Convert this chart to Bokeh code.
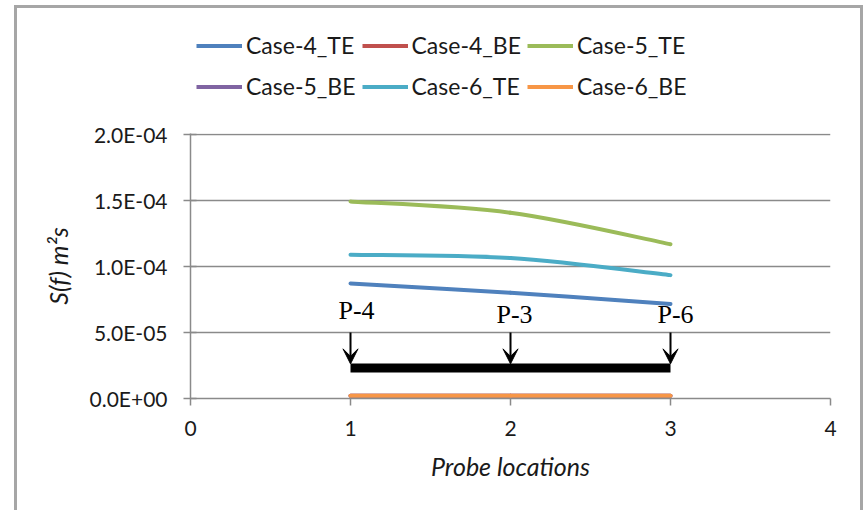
import numpy as np
from bokeh.plotting import figure
from bokeh.layouts import column
from bokeh.models import (Legend, LegendItem, Arrow, VeeHead, InlineStyleSheet,
                          FixedTicker, CustomJSTickFormatter, ColumnDataSource, Range1d)
from bokeh.embed import file_html
from bokeh.resources import INLINE
from bokeh.core.properties import value

# Spectral density at the three probe positions
probes = [1, 2, 3]
case4_te = [8.7e-5, 8.0e-5, 7.15e-5]
case4_be = [2.0e-6, 2.0e-6, 2.0e-6]
case5_te = [1.49e-4, 1.405e-4, 1.167e-4]
case5_be = [2.0e-6, 2.0e-6, 2.0e-6]
case6_te = [1.087e-4, 1.062e-4, 9.33e-5]
case6_be = [2.0e-6, 2.0e-6, 2.0e-6]

series_names = ["Case-4_TE", "Case-4_BE", "Case-5_TE", "Case-5_BE", "Case-6_TE", "Case-6_BE"]
series_values = [case4_te, case4_be, case5_te, case5_be, case6_te, case6_be]
series_colors = ["#4F81BD", "#C0504D", "#9BBB59", "#8064A2", "#4BACC6", "#F79646"]

probe_labels = ["P-4", "P-3", "P-6"]
x_ticks = [0, 1, 2, 3, 4]
y_ticks = [0, 5e-5, 1e-4, 1.5e-4, 2e-4]

FONT = "Lato"
TEXT = "#1a1a1a"
GRID = "#8a8a8a"
LINE_W = 4

# grey chart-area frame, drawn as an overlay that takes no layout space
frame_css = InlineStyleSheet(css="""
:host { position: relative; }
:host::after {
  content: ''; position: absolute; z-index: 10; pointer-events: none;
  left: 14px; top: 5px; right: 1px; bottom: -20px;
  border: 3px solid #a6a6a6;
}
""")

# ---- legend strip ----------------------------------------------------------
# its ranges sit away from the data, so only the legend entries show
leg = figure(width=864, height=110, output_backend="svg", toolbar_location=None,
             x_range=Range1d(10, 11), y_range=Range1d(10, 11),
             min_border=0, x_axis_type=None, y_axis_type=None)
leg.outline_line_color = None
leg.grid.visible = False
leg_renderers = [leg.line(x=probes, y=vals, line_color=c, line_width=LINE_W)
                 for vals, c in zip(series_values, series_colors)]
legend = Legend(items=[LegendItem(label=n, renderers=[r])
                       for n, r in zip(series_names, leg_renderers)],
                orientation="horizontal", nrows=2, location=(196, 6.5),
                glyph_width=46, glyph_height=35, label_height=35, spacing=6,
                label_standoff=4, padding=0, margin=0,
                border_line_alpha=0, background_fill_alpha=0,
                label_text_font=FONT, label_text_font_size="23px",
                label_text_color=TEXT)
leg.add_layout(legend, "center")

# ---- main chart ------------------------------------------------------------
p = figure(width=864, height=400, output_backend="svg", toolbar_location=None,
           x_range=Range1d(0, 4), y_range=Range1d(0, 2.004e-4),
           min_border_left=190, min_border_right=34, min_border_top=23,
           min_border_bottom=112)
p.outline_line_color = None
p.background_fill_color = "white"
p.border_fill_color = "white"

# keep each figure's frame independent inside the column
for fig in (leg, p):
    if "frame_align" in fig.properties():
        fig.frame_align = False


def smooth_beziers(xs, ys, k=1.0 / 6.0):
    """Cardinal-spline control points for a smoothed polyline."""
    xs = np.asarray(xs, float)
    ys = np.asarray(ys, float)
    n = len(xs)
    x0, y0, x1, y1, cx0, cy0, cx1, cy1 = ([] for _ in range(8))
    for i in range(n - 1):
        ip = max(i - 1, 0)
        inx = min(i + 2, n - 1)
        x0.append(xs[i]); y0.append(ys[i])
        x1.append(xs[i + 1]); y1.append(ys[i + 1])
        cx0.append(xs[i] + (xs[i + 1] - xs[ip]) * k)
        cy0.append(ys[i] + (ys[i + 1] - ys[ip]) * k)
        cx1.append(xs[i + 1] - (xs[inx] - xs[i]) * k)
        cy1.append(ys[i + 1] - (ys[inx] - ys[i]) * k)
    return dict(x0=x0, y0=y0, x1=x1, y1=y1, cx0=cx0, cy0=cy0, cx1=cx1, cy1=cy1)


for name, vals, col in zip(series_names, series_values, series_colors):
    src = ColumnDataSource(smooth_beziers(probes, vals))
    p.bezier(x0="x0", y0="y0", x1="x1", y1="y1", cx0="cx0", cy0="cy0",
             cx1="cx1", cy1="cy1", source=src, line_color=col, line_width=LINE_W,
             line_cap="round")

# probe bar with arrows and labels
bar_y = 2.3e-5
p.segment(x0=[probes[0]], y0=[bar_y], x1=[probes[-1]], y1=[bar_y],
          line_color="black", line_width=9, line_cap="butt")
arrow_src = ColumnDataSource(dict(x=probes, ys=[5e-5] * 3, ye=[2.62e-5] * 3))
p.add_layout(Arrow(x_start="x", y_start="ys", x_end="x", y_end="ye", source=arrow_src,
                   line_color="black", line_width=2,
                   end=VeeHead(size=15, fill_color="black", line_color="black",
                               line_width=1)))
p.text(x=probes, y=[6.42e-5] * 3, text=probe_labels, x_offset=[6, 4, 5],
       y_offset=[-3, 1, 1],
       text_font=value("Liberation Serif"), text_font_size="26px",
       text_align="center", text_baseline="alphabetic", text_color="black")

# axes
p.xaxis.ticker = FixedTicker(ticks=x_ticks)
p.yaxis.ticker = FixedTicker(ticks=y_ticks)
p.yaxis.formatter = CustomJSTickFormatter(code="""
    const s = tick.toExponential(1).split('e');
    const e = parseInt(s[1]);
    const es = (e < 0 ? '-' : '+') + String(Math.abs(e)).padStart(2, '0');
    return s[0] + 'E' + es;
""")
for ax in (p.xaxis[0], p.yaxis[0]):
    ax.axis_line_color = GRID
    ax.axis_line_width = 1.5
    ax.major_tick_line_color = GRID
    ax.major_tick_line_width = 1.5
    ax.minor_tick_line_color = None
    ax.major_label_text_font = FONT
    ax.major_label_text_font_size = "21px"
    ax.major_label_text_color = TEXT
    ax.axis_label_text_font = FONT
    ax.axis_label_text_font_size = "25px"
    ax.axis_label_text_font_style = "italic"
    ax.axis_label_text_color = TEXT

p.xaxis.axis_label = "Probe locations"
p.xaxis.major_tick_in = 0
p.xaxis.major_tick_out = 7
p.xaxis.major_label_standoff = 15
p.xaxis.axis_label_standoff = 12

p.yaxis.axis_label = "S(f) m²s"
p.yaxis.major_tick_in = 6
p.yaxis.major_tick_out = 7
p.yaxis.major_label_standoff = 16
p.yaxis.axis_label_standoff = 14

p.xgrid.grid_line_color = None
p.ygrid.grid_line_color = GRID
p.ygrid.grid_line_width = 1.5

layout = column(leg, p, spacing=0, stylesheets=[frame_css])
open("out.html", "w").write(file_html(layout, INLINE))
